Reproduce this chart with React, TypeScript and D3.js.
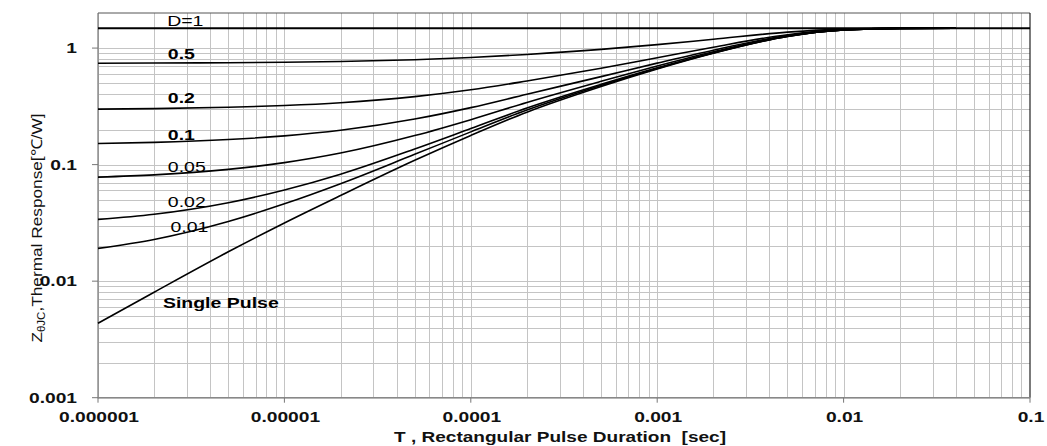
import React from 'react';
import * as d3 from 'd3';

// pulse durations (sec) where the curves were read
const TIMES = [1e-6, 2e-6, 5e-6, 1e-5, 2e-5, 5e-5, 1e-4, 2e-4, 5e-4, 1e-3, 2e-3, 5e-3, 1e-2, 2e-2, 4e-2];

// thermal response values (C/W), one array per duty cycle
const D_050 = [0.742, 0.744, 0.749, 0.756, 0.767, 0.794, 0.829, 0.881, 0.974, 1.0705, 1.191, 1.3695, 1.4545, 1.478, 1.48];
const D_020 = [0.2995, 0.3024, 0.3103, 0.3213, 0.3394, 0.3831, 0.4384, 0.5216, 0.6704, 0.8248, 1.0176, 1.3032, 1.4392, 1.477, 1.48];
const D_010 = [0.1519, 0.1552, 0.1641, 0.1764, 0.1969, 0.246, 0.3082, 0.4018, 0.5692, 0.7429, 0.9598, 1.2811, 1.4341, 1.4764, 1.48];
const D_005 = [0.0781, 0.0816, 0.091, 0.104, 0.1256, 0.1775, 0.2431, 0.3419, 0.5186, 0.702, 0.9309, 1.2701, 1.4316, 1.4762, 1.48];
const D_002 = [0.0339, 0.0375, 0.0471, 0.0606, 0.0828, 0.1363, 0.204, 0.306, 0.4882, 0.6774, 0.9136, 1.2634, 1.43, 1.476, 1.48];
const D_001 = [0.0191, 0.0228, 0.0325, 0.0461, 0.0686, 0.1226, 0.191, 0.294, 0.4781, 0.6692, 0.9078, 1.2612, 1.4295, 1.476, 1.48];
const SINGLE = [0.00435, 0.00804, 0.01786, 0.0316, 0.0543, 0.1089, 0.178, 0.282, 0.468, 0.661, 0.902, 1.259, 1.429, 1.476, 1.48];
const D_1 = 1.48;

const X_TICKS = [1e-6, 1e-5, 1e-4, 1e-3, 1e-2, 1e-1];
const X_TICK_LABELS = ['0.000001', '0.00001', '0.0001', '0.001', '0.01', '0.1'];
const Y_TICKS = [0.001, 0.01, 0.1, 1];
const Y_TICK_LABELS = ['0.001', '0.01', '0.1', '1'];

// curve labels: text, anchor point (T, Z)
const CURVE_LABELS = [
  { text: 'D=1', t: 2.35e-6, z: 1.55, bold: false },
  { text: '0.5', t: 2.37e-6, z: 0.808, bold: true },
  { text: '0.2', t: 2.37e-6, z: 0.339, bold: true },
  { text: '0.1', t: 2.37e-6, z: 0.163, bold: true },
  { text: '0.05', t: 2.37e-6, z: 0.0865, bold: false },
  { text: '0.02', t: 2.37e-6, z: 0.0433, bold: false },
  { text: '0.01', t: 2.45e-6, z: 0.0264, bold: false },
  { text: 'Single Pulse', t: 2.23e-6, z: 0.00589, bold: true },
];

const W = 1047;
const H = 446;
const FONT = '"Liberation Sans", Arial, sans-serif';
const STRETCH = 1.3; // the original text is drawn wide

export default function App() {
  const x = d3.scaleLog().domain([1e-6, 0.1]).range([98, 1030]);
  const y = d3.scaleLog().domain([0.001, 2]).range([397.7, 13]);
  const [x0, x1] = x.range();
  const [y0, y1] = y.range();

  const line = d3
    .line<number>()
    .x((_, i) => x(TIMES[i]))
    .y((d) => y(d))
    .curve(d3.curveMonotoneX);

  const series = [D_050, D_020, D_010, D_005, D_002, D_001, SINGLE];

  // minor + major grid values
  const xGrid: number[] = [];
  for (let e = -6; e < -1; e++) for (let k = 1; k <= 9; k++) xGrid.push(k * Math.pow(10, e));
  const yGrid: number[] = [];
  for (let e = -3; e <= 0; e++) for (let k = 1; k <= 9; k++) {
    const v = k * Math.pow(10, e);
    if (v < 2) yGrid.push(v);
  }

  const wide = (px: number, py: number, sx = STRETCH) => `translate(${px},${py}) scale(${sx},1)`;

  return (
    <svg width={W} height={H} style={{ position: 'absolute', left: 0, top: 0, background: '#fff' }} fontFamily={FONT}>
      {/* grid */}
      <g stroke="#c4c4c4" strokeWidth={1}>
        {xGrid.map((v) => (
          <line key={'gx' + v} x1={Math.round(x(v)) + 0.5} x2={Math.round(x(v)) + 0.5} y1={y1} y2={y0} />
        ))}
        {yGrid.map((v) => (
          <line key={'gy' + v} x1={x0} x2={x1} y1={Math.round(y(v)) + 0.5} y2={Math.round(y(v)) + 0.5} />
        ))}
      </g>

      {/* frame */}
      <line x1={x0} x2={x1} y1={y1} y2={y1} stroke="#555" strokeWidth={1} />
      <line x1={x1} x2={x1} y1={y1} y2={y0} stroke="#222" strokeWidth={1.2} />
      <line x1={x0} x2={x0} y1={y1} y2={y0 + 0.5} stroke="#777" strokeWidth={1.2} />
      <line x1={x0} x2={x1} y1={y0} y2={y0} stroke="#888" strokeWidth={1.2} />

      {/* ticks */}
      {Y_TICKS.map((v, i) => (
        <g key={'yt' + v}>
          <line x1={x0 - 6} x2={x0} y1={y(v)} y2={y(v)} stroke="#777" />
          <text transform={wide(77, y(v) + 5, 1.28)} textAnchor="end" fontSize={15} fontWeight="bold" fill="#111">
            {Y_TICK_LABELS[i]}
          </text>
        </g>
      ))}
      {X_TICKS.map((v, i) => (
        <g key={'xt' + v}>
          <line x1={x(v)} x2={x(v)} y1={y0} y2={y0 + 5} stroke="#777" />
          <text transform={wide(x(v) + 1, 422, 1.28)} textAnchor="middle" fontSize={15} fontWeight="bold" fill="#111">
            {X_TICK_LABELS[i]}
          </text>
        </g>
      ))}

      {/* D=1 line */}
      <line x1={x0} x2={x1} y1={y(D_1)} y2={y(D_1)} stroke="#000" strokeWidth={2} />

      {/* curves */}
      {series.map((s, i) => (
        <path key={'s' + i} d={line(s) || ''} fill="none" stroke="#000" strokeWidth={1.6} />
      ))}

      {/* curve labels */}
      {CURVE_LABELS.map((l) => (
        <text
          key={l.text}
          transform={wide(x(l.t), y(l.z))}
          fontSize={15}
          fontWeight={l.bold ? 'bold' : 'normal'}
          fill="#000"
          style={{ whiteSpace: 'pre' }}
        >
          {l.text}
        </text>
      ))}

      {/* axis titles */}
      <text transform={wide(560, 442, 1.27)} textAnchor="middle" fontSize={15} fontWeight="bold" fill="#111" style={{ whiteSpace: 'pre' }}>
        {'T , Rectangular Pulse Duration  [sec]'}
      </text>
      <text
        transform="translate(42,228) rotate(-90) scale(1.15,1)"
        textAnchor="middle"
        fontSize={15}
        fill="#111"
      >
        <tspan>Z</tspan>
        <tspan fontSize={10} dy={3}>θJC</tspan>
        <tspan dy={-3}>,Thermal Response[℃/W]</tspan>
      </text>
    </svg>
  );
}
